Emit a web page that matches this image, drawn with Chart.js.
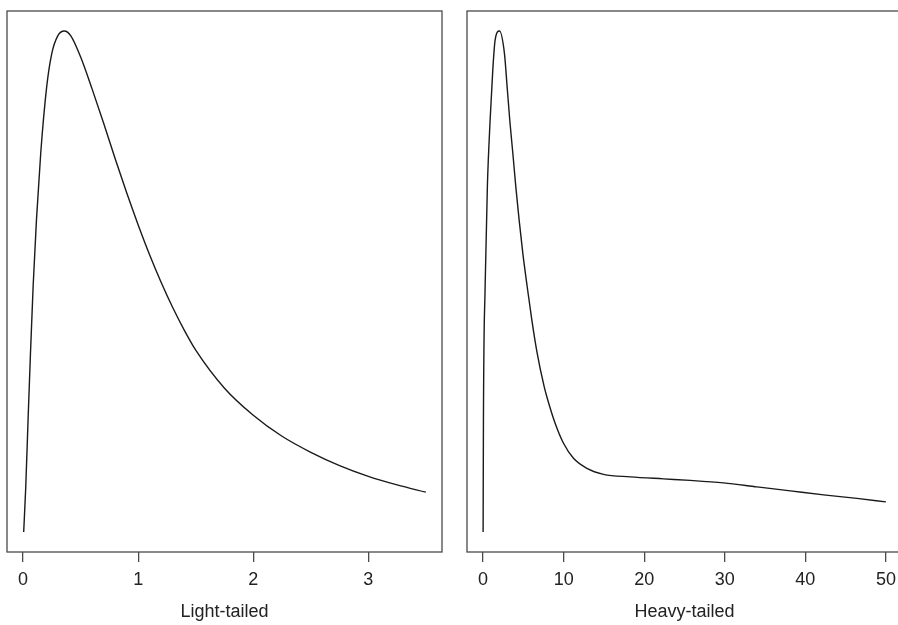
<!DOCTYPE html>
<html>
<head>
<meta charset="utf-8">
<script src="https://cdn.jsdelivr.net/npm/chart.js@4.4.1/dist/chart.umd.min.js"></script>
<style>
  html, body { margin: 0; padding: 0; background: #fff; overflow: hidden; width: 898px; height: 625px; }
  canvas { position: absolute; top: 0; }
  #left { left: 0; }
  #right { left: 460px; }
</style>
</head>
<body>
<canvas id="left" width="449" height="625"></canvas>
<canvas id="right" width="449" height="625"></canvas>
<script>
// density curves (y scaled so the peak is 1)
var lightX = [0.005, 0.023, 0.043, 0.064, 0.087, 0.116, 0.153, 0.205, 0.249, 0.30, 0.358, 0.416, 0.5, 0.6, 0.7, 0.8, 0.9,
              1.0, 1.1, 1.2, 1.3, 1.4, 1.5, 1.75, 2.0, 2.25, 2.5, 2.75, 3.0, 3.25, 3.5];
var lightY = [0, 0.090, 0.2235, 0.357, 0.49, 0.623, 0.756, 0.889, 0.955, 0.99, 1.0, 0.99, 0.948, 0.884, 0.816, 0.745, 0.677,
              0.613, 0.553, 0.498, 0.448, 0.403, 0.363, 0.287, 0.233, 0.191, 0.159, 0.1325, 0.111, 0.0939, 0.0794];

var heavyX = [0, 0.04, 0.25, 0.53, 0.87, 1.20, 1.49, 2.03, 2.65, 2.98, 3.31, 3.69, 4.06, 4.47, 4.93, 5.47, 6.05, 6.71, 7.58,
              7.91, 8.94, 9.98, 11.22, 12.88, 14.94, 18.26, 22.40, 25.71, 29.85, 33.99, 38.14, 42.27, 46.42, 50];
var heavyY = [0, 0.224, 0.49, 0.69, 0.822, 0.922, 0.982, 1.0, 0.955, 0.889, 0.822, 0.756, 0.689, 0.623, 0.556, 0.49, 0.423, 0.357, 0.29,
              0.270, 0.217, 0.177, 0.147, 0.127, 0.115, 0.110, 0.106, 0.103, 0.098, 0.090, 0.082, 0.074, 0.067, 0.060];

var lightTicks = [0, 1, 2, 3];
var heavyTicks = [0, 10, 20, 30, 40, 50];

var boxPlugin = {
  id: 'box',
  beforeDatasetsDraw: function(chart) {
    var ctx = chart.ctx, a = chart.chartArea;
    ctx.save();
    ctx.strokeStyle = '#4a4a4a';
    ctx.lineWidth = 1.3;
    ctx.strokeRect(a.left, a.top, a.right - a.left, a.bottom - a.top);
    ctx.restore();
  }
};

function makeChart(id, xs, ys, ticks, xmin, xmax, label) {
  var pts = xs.map(function(x, i) { return {x: x, y: ys[i]}; });
  return new Chart(document.getElementById(id), {
    type: 'line',
    data: {
      datasets: [{
        data: pts,
        borderColor: '#1a1a1a',
        borderWidth: 1.4,
        pointRadius: 0,
        fill: false,
        cubicInterpolationMode: 'monotone'
      }]
    },
    options: {
      responsive: false,
      animation: false,
      devicePixelRatio: 1,
      layout: { padding: { left: 7, right: 7, top: 11, bottom: 0 } },
      plugins: { legend: { display: false }, tooltip: { enabled: false } },
      scales: {
        x: {
          type: 'linear',
          min: xmin,
          max: xmax,
          afterBuildTicks: function(s) { s.ticks = ticks.map(function(v) { return {value: v}; }); },
          afterFit: function(s) { s.height = 73; },
          grid: { drawOnChartArea: false, drawTicks: true, tickLength: 10, color: '#4a4a4a', lineWidth: 1.3 },
          border: { display: false },
          ticks: {
            padding: 7,
            maxRotation: 0,
            autoSkip: false,
            color: '#222',
            font: { family: 'Liberation Sans, Arial, sans-serif', size: 18 }
          },
          title: {
            display: true,
            text: label,
            color: '#222',
            padding: { top: 0, bottom: 2 },
            font: { family: 'Liberation Sans, Arial, sans-serif', size: 18 }
          }
        },
        y: { display: false, min: -0.04, max: 1.04 }
      }
    },
    plugins: [boxPlugin]
  });
}

makeChart('left', lightX, lightY, lightTicks, -0.14, 3.64, 'Light-tailed');
makeChart('right', heavyX, heavyY, heavyTicks, -2, 52, 'Heavy-tailed');
</script>
</body>
</html>
